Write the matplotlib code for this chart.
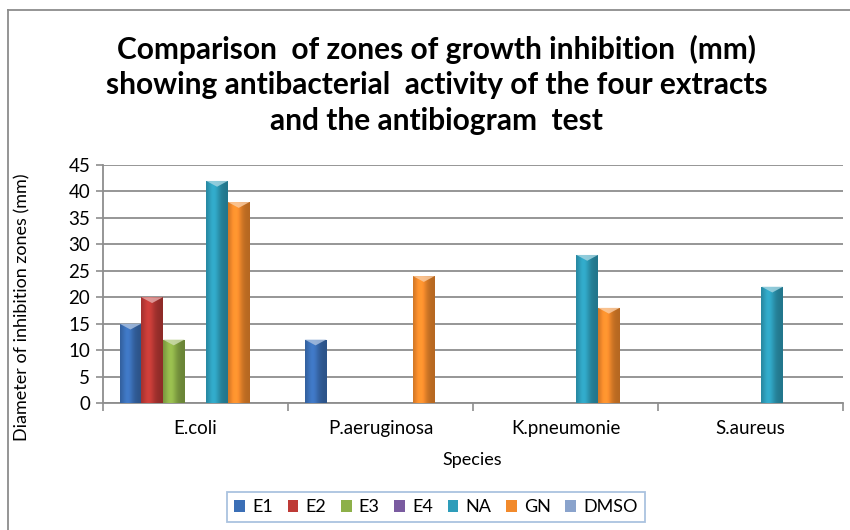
import numpy as np
import matplotlib
matplotlib.use('Agg')
import matplotlib.pyplot as plt
from matplotlib.patches import Patch, Polygon
from matplotlib.lines import Line2D
from matplotlib.colors import to_rgb

plt.rcParams['font.family'] = ['Lato', 'DejaVu Sans']

species = ['E.coli', 'P.aeruginosa', 'K.pneumonie', 'S.aureus']
series = ['E1', 'E2', 'E3', 'E4', 'NA', 'GN', 'DMSO']
colors = ['#3B6FB6', '#BE3A36', '#8DB049', '#7A5BA0', '#2E9DBA', '#F28A2C', '#8AA3CC']

# inhibition zone diameters (mm), one list per treatment, in species order
E1 = [15, 12, 0, 0]
E2 = [20, 0, 0, 0]
E3 = [12, 0, 0, 0]
E4 = [0, 0, 0, 0]
NA = [42, 0, 28, 22]
GN = [38, 24, 18, 0]
DMSO = [0, 0, 0, 0]
values = [E1, E2, E3, E4, NA, GN, DMSO]

fig = plt.figure(figsize=(8.5, 5.3), dpi=100)
ax = fig.add_axes([0.121, 0.2396, 0.871, 0.449])

x = np.arange(len(species))
w = 0.117


def shaded(c, t):
    # darker edges, brighter band left of centre
    f = 0.80 + 0.32 * np.exp(-((t - 0.35) / 0.28) ** 2) - 0.05 * t
    return np.clip(np.array(to_rgb(c))[None, :] * f[:, None], 0, 1)


t = np.linspace(0, 1, 64)
for i, (name, vals) in enumerate(zip(series, values)):
    pos = x + (i - 3) * w
    bars = ax.bar(pos, vals, width=w, color=colors[i], edgecolor='none', zorder=2)
    grad = shaded(colors[i], t)[None, :, :]
    for b in bars:
        h = b.get_height()
        if h <= 0:
            continue
        x0 = b.get_x()
        x1 = x0 + b.get_width()
        im = ax.imshow(grad, extent=(x0, x1, 0, h), aspect='auto',
                       interpolation='bilinear', zorder=3)
        im.set_clip_path(b)
        light = 0.45 * np.array(to_rgb(colors[i])) + 0.55
        ax.add_patch(Polygon([(x0, h), (x1, h), ((x0 + x1) / 2, h - 1.1)],
                             closed=True, facecolor=light, edgecolor='none',
                             alpha=0.85, zorder=4))

ax.set_xlim(-0.5, len(species) - 0.5)
ax.set_ylim(0, 45)
ax.set_yticks(np.arange(0, 46, 5))
ax.yaxis.grid(True, color='#8E8E8E', linewidth=1.3, zorder=0)
ax.set_axisbelow(True)

ax.set_xticks(np.arange(len(species) + 1) - 0.5)
ax.set_xticklabels([])
ax.set_xticks(x, minor=True)
ax.set_xticklabels(species, minor=True)
ax.tick_params(axis='x', which='major', length=6, color='#8E8E8E', width=1.2)
ax.tick_params(axis='x', which='minor', length=0, pad=12, labelsize=13.5)
ax.tick_params(axis='y', length=5, color='#8E8E8E', width=1.2, labelsize=13.5, pad=4)

for s in ['top', 'right']:
    ax.spines[s].set_visible(False)
for s in ['left', 'bottom']:
    ax.spines[s].set_color('#8E8E8E')
    ax.spines[s].set_linewidth(1.3)

fig.text(0.514, 0.84, 'Comparison  of zones of growth inhibition  (mm)\n'
         'showing antibacterial  activity of the four extracts\n'
         'and the antibiogram  test',
         ha='center', va='center', fontsize=21.5, fontweight='bold',
         linespacing=1.33)
fig.text(0.556, 0.132, 'Species', ha='center', va='center', fontsize=13)
fig.text(0.026, 0.42, 'Diameter of inhibition zones (mm)', rotation=90,
         ha='center', va='center', fontsize=13)

handles = [Patch(facecolor=c, edgecolor='none') for c in colors]
leg = fig.legend(handles, series, loc='center', bbox_to_anchor=(0.513, 0.043),
                 ncol=7, fontsize=13, frameon=True, fancybox=False,
                 handlelength=0.6, handleheight=0.6, handletextpad=0.4,
                 columnspacing=0.8, borderpad=0.4)
leg.get_frame().set_edgecolor('#95B3D7')
leg.get_frame().set_linewidth(1.3)

# chart area frame
fig.add_artist(Line2D([8 / 850, 8 / 850], [0, 1 - 10 / 530], color='#8C8C8C',
                      linewidth=1.3, transform=fig.transFigure))
fig.add_artist(Line2D([8 / 850, 1], [1 - 10 / 530, 1 - 10 / 530], color='#8C8C8C',
                      linewidth=1.3, transform=fig.transFigure))

fig.savefig('out.png', dpi=100)
